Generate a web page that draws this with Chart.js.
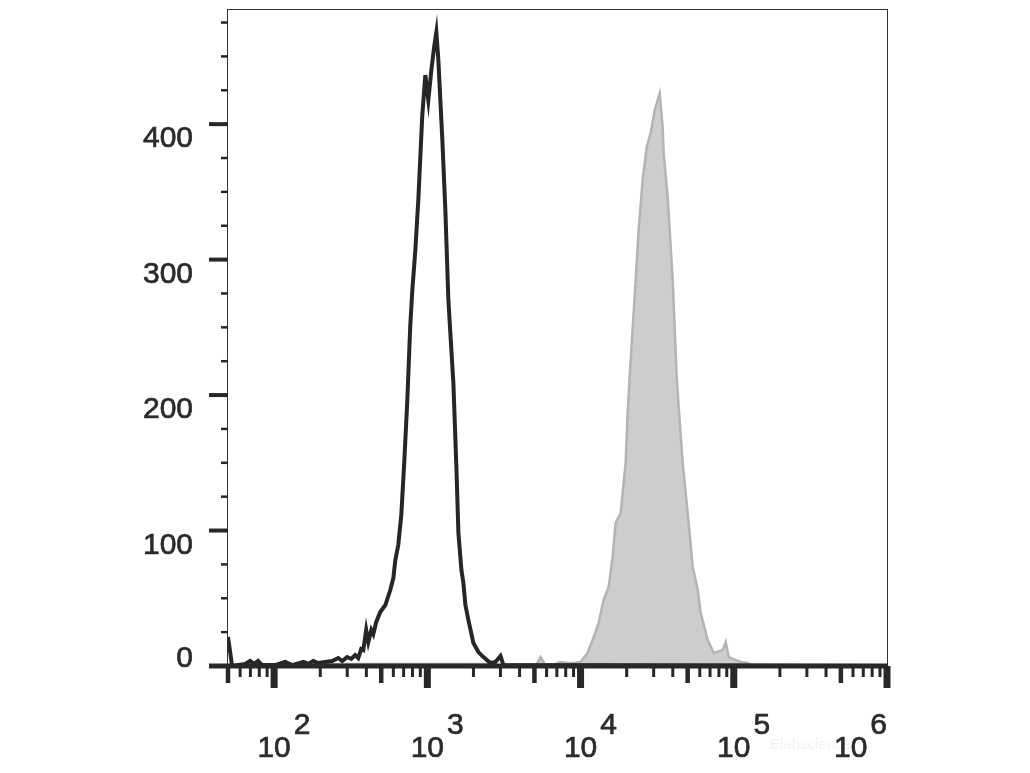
<!DOCTYPE html>
<html>
<head>
<meta charset="utf-8">
<script src="https://cdn.jsdelivr.net/npm/chart.js@4.4.1/dist/chart.umd.min.js"></script>
<style>
  html, body { margin: 0; padding: 0; background: #fff; }
  canvas { display: block; }
</style>
</head>
<body>
<canvas id="hist" width="1030" height="773"></canvas>
<script>
// unstained control (black outline)
const controlX = [50, 53.2, 64.6, 69.7, 74, 78.6, 83.5, 101.5, 118, 131, 155, 167, 180, 194, 215, 239, 262, 278, 300, 319, 338, 354, 370, 382, 399, 412, 431, 444, 464, 493, 532, 573, 600, 618, 646, 676, 708, 740, 774, 798, 835, 873, 927, 970, 1015, 1062, 1111, 1145, 1180, 1216, 1253, 1311, 1372, 1435, 1479, 1547, 1595, 1669, 1719, 1772, 1854, 1998, 2154, 2323, 2581, 2783, 3000, 3139, 1000000]
const controlY = [21.4, 0, 1.5, 3.7, 1.5, 3.7, 0.7, 0.7, 3, 0.7, 3, 1.5, 3.7, 2.2, 3, 3.7, 5.9, 3.7, 6.6, 5.2, 8.1, 5.9, 12.5, 11.8, 26.6, 17.7, 26.6, 23.6, 32.5, 39.9, 45, 56.1, 64.9, 78.2, 89.3, 111.4, 152, 196, 251.7, 277.5, 307, 344, 406.6, 436.2, 417.7, 439.9, 458.3, 467.9, 447.2, 417.7, 388.2, 336.5, 270, 233.2, 208.9, 146.9, 98.2, 70.8, 61.3, 45, 33.9, 17, 10.3, 6.6, 2.2, 3, 7.4, 0.7, 0]

// stained sample (grey filled)
const stainedX = [50, 209, 2466, 3000, 5080, 5478, 5906, 6864, 7402, 8224, 9000, 10000, 11110, 11980, 13110, 14140, 15240, 16190, 16940, 18260, 19690, 20290, 20910, 22540, 23940, 25420, 27010, 28670, 30460, 32840, 34340, 34860, 37040, 39940, 42420, 43700, 46420, 50040, 53950, 58170, 60860, 67620, 74020, 84770, 88660, 92760, 103000, 111100, 123500, 133000, 1000000]
const stainedY = [0, 1.5, 1.5, 0, 0, 6.6, 0.7, 1.5, 3, 2.2, 2.2, 3, 9.6, 19.2, 31.7, 48.7, 58.3, 80.4, 105.5, 112.9, 149.8, 186.7, 213.3, 272.3, 321.8, 358.7, 383, 393.4, 410.3, 422.9, 397.8, 378.6, 346.1, 284.9, 213.3, 191.1, 149.8, 112.9, 73.1, 56.1, 39.1, 19.2, 9.6, 11.8, 17.7, 6.6, 4.4, 3, 2.2, 0, 0]

const yMajorTicks = [0, 100, 200, 300, 400]
const yTickLabels = ['0', '100', '200', '300', '400']
const yMinorStep = 25
const xMajorTicks = [100, 1000, 10000, 100000, 1000000]
const xExponents = ['2', '3', '4', '5', '6']

const toPoints = (xs, ys) => xs.map((x, i) => ({ x, y: ys[i] }))

const axisPlugin = {
  id: 'flowAxes',
  afterDatasetsDraw(chart) {
    const { ctx, chartArea: a, scales: { x, y } } = chart
    const ink = '#282828'
    const y0 = y.getPixelForValue(0)
    ctx.save()

    // thin frame
    ctx.strokeStyle = '#333'
    ctx.lineWidth = 1
    ctx.strokeRect(a.left - 0.5, a.top + 0.5, a.right - a.left + 1, a.bottom - a.top)

    // thick baseline
    ctx.fillStyle = ink
    ctx.fillRect(a.left - 19, y0 - 2.5, a.right - a.left + 20, 5)

    // y ticks
    for (let v = yMinorStep; v <= y.max; v += yMinorStep) {
      const py = y.getPixelForValue(v)
      if (yMajorTicks.includes(v)) ctx.fillRect(a.left - 19, py - 2, 19, 4)
      else ctx.fillRect(a.left - 7, py - 1.25, 7, 2.5)
    }

    // x ticks
    const tick = (v, w, len) => {
      const px = x.getPixelForValue(v)
      ctx.fillRect(px - w / 2, y0, w, len)
    }
    for (let d = 10; d < x.max; d *= 10) {
      for (let k = 2; k <= 9; k++) {
        const v = k * d
        if (v < x.min || v > x.max) continue
        if (k === 5) tick(v, 4.5, 17)
        else tick(v, 3, 11)
      }
    }
    xMajorTicks.forEach(v => tick(v, 7, 22))

    // labels, drawn a touch heavier like the original
    const label = (s, px, py) => {
      ctx.fillText(s, px, py)
      ctx.strokeText(s, px, py)
    }
    ctx.fillStyle = '#2b2b2b'
    ctx.strokeStyle = '#2b2b2b'
    ctx.lineWidth = 0.7
    ctx.font = '30px "Liberation Sans", Arial, sans-serif'
    ctx.textAlign = 'right'
    ctx.textBaseline = 'alphabetic'
    yMajorTicks.forEach((v, i) => {
      const py = y.getPixelForValue(v)
      label(yTickLabels[i], a.left - 35, py + (v === 0 ? 1 : 23))
    })

    // x labels: 10 with raised exponent
    ctx.textAlign = 'left'
    const base = y0 + 91
    xMajorTicks.forEach((v, i) => {
      const px = x.getPixelForValue(v)
      const w = ctx.measureText('10').width
      const ew = ctx.measureText(xExponents[i]).width
      let left = px - w / 2
      if (i === xMajorTicks.length - 1) left = a.right - ew - 3 - w
      label('10', left, base)
      label(xExponents[i], left + w + 3, base - 23)
    })

    // faint watermark
    ctx.fillStyle = 'rgba(0,0,0,0.05)'
    ctx.font = '15px "Liberation Sans", Arial, sans-serif'
    ctx.fillText('Elabscience', 770, base - 8)

    ctx.restore()
  }
}

new Chart(document.getElementById('hist'), {
  type: 'line',
  data: {
    datasets: [
      {
        label: 'stained',
        data: toPoints(stainedX, stainedY),
        borderColor: '#b4b4b4',
        backgroundColor: '#cdcdcd',
        borderWidth: 2.5,
        fill: 'origin',
        pointRadius: 0,
        tension: 0,
        order: 2,
      },
      {
        label: 'control',
        data: toPoints(controlX, controlY),
        borderColor: '#262626',
        borderWidth: 4,
        fill: false,
        pointRadius: 0,
        tension: 0,
        order: 1,
      },
    ],
  },
  options: {
    responsive: false,
    animation: false,
    layout: { padding: { left: 228, right: 143, top: 9, bottom: 107 } },
    plugins: { legend: { display: false }, tooltip: { enabled: false } },
    scales: {
      x: { type: 'logarithmic', min: 50, max: 1000000, display: false },
      y: { type: 'linear', min: 0, max: 485, display: false },
    },
  },
  plugins: [axisPlugin],
})
</script>
</body>
</html>
